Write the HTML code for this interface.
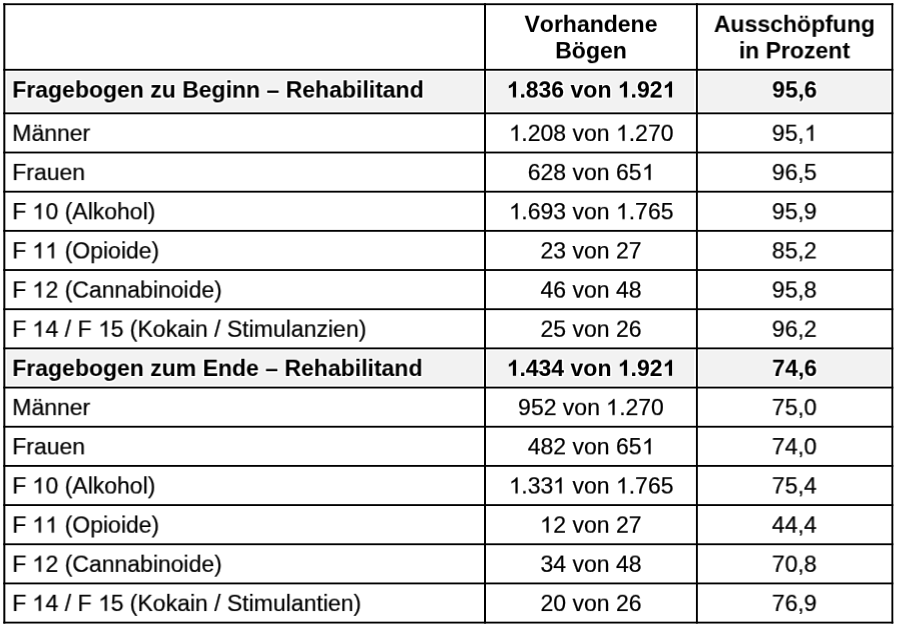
<!DOCTYPE html>
<html lang="de"><head><meta charset="utf-8"><title>Tabelle</title>
<style>
html,body{margin:0;padding:0;background:#fff;}
body{width:900px;height:627px;position:relative;overflow:hidden;font-family:"Liberation Sans",sans-serif;color:#000;}
#grid{position:absolute;left:0;top:0;width:900px;height:627px;}
.t{position:absolute;white-space:nowrap;font-size:23.0px;line-height:26.43px;height:26.43px;transform:scaleY(0.96);transform-origin:50% 21.18px;will-change:transform;-webkit-text-stroke:0.22px #000;font-kerning:none;font-feature-settings:'kern' 0,'liga' 0;}
.b{font-weight:bold;-webkit-text-stroke:0.05px #000;}
.h{text-shadow:0.90px 0.00px 0.4px #fff,0.78px 0.45px 0.4px #fff,0.45px 0.78px 0.4px #fff,0.00px 0.90px 0.4px #fff,-0.45px 0.78px 0.4px #fff,-0.78px 0.45px 0.4px #fff,-0.90px 0.00px 0.4px #fff,-0.78px -0.45px 0.4px #fff,-0.45px -0.78px 0.4px #fff,-0.00px -0.90px 0.4px #fff,0.45px -0.78px 0.4px #fff,0.78px -0.45px 0.4px #fff,1.50px 0.00px 0.6px #fff,1.30px 0.75px 0.6px #fff,0.75px 1.30px 0.6px #fff,0.00px 1.50px 0.6px #fff,-0.75px 1.30px 0.6px #fff,-1.30px 0.75px 0.6px #fff,-1.50px 0.00px 0.6px #fff,-1.30px -0.75px 0.6px #fff,-0.75px -1.30px 0.6px #fff,-0.00px -1.50px 0.6px #fff,0.75px -1.30px 0.6px #fff,1.30px -0.75px 0.6px #fff;}
.c{text-align:center;}
.o{display:inline-block;width:0.55615em;height:0.7422em;vertical-align:-0.00977em;overflow:visible;}
</style></head><body>
<svg id="grid" width="900" height="627" viewBox="0 0 900 627">
<rect x="6.95" y="72.05" width="475.75" height="38.90" fill="#f2f2f2"/>
<rect x="487.20" y="72.05" width="206.80" height="38.90" fill="#f2f2f2"/>
<rect x="699.20" y="72.05" width="190.80" height="38.90" fill="#f2f2f2"/>
<rect x="6.95" y="350.65" width="475.75" height="34.52" fill="#f2f2f2"/>
<rect x="487.20" y="350.65" width="206.80" height="34.52" fill="#f2f2f2"/>
<rect x="699.20" y="350.65" width="190.80" height="34.52" fill="#f2f2f2"/>
<rect x="3.33" y="3.29" width="889.94" height="1.85" fill="#000"/>
<rect x="3.33" y="621.67" width="889.94" height="1.85" fill="#000"/>
<rect x="3.33" y="3.29" width="2.00" height="620.23" fill="#000"/>
<rect x="484.00" y="3.29" width="2.00" height="620.23" fill="#000"/>
<rect x="695.95" y="3.29" width="1.90" height="620.23" fill="#000"/>
<rect x="891.43" y="3.29" width="1.85" height="620.23" fill="#000"/>
<rect x="3.33" y="68.86" width="889.94" height="1.85" fill="#000"/>
<rect x="3.33" y="112.41" width="889.94" height="1.85" fill="#000"/>
<rect x="3.33" y="151.58" width="889.94" height="1.85" fill="#000"/>
<rect x="3.33" y="190.75" width="889.94" height="1.85" fill="#000"/>
<rect x="3.33" y="229.93" width="889.94" height="1.85" fill="#000"/>
<rect x="3.33" y="269.10" width="889.94" height="1.85" fill="#000"/>
<rect x="3.33" y="308.28" width="889.94" height="1.85" fill="#000"/>
<rect x="3.33" y="347.45" width="889.94" height="1.85" fill="#000"/>
<rect x="3.33" y="386.63" width="889.94" height="1.85" fill="#000"/>
<rect x="3.33" y="425.80" width="889.94" height="1.85" fill="#000"/>
<rect x="3.33" y="464.98" width="889.94" height="1.85" fill="#000"/>
<rect x="3.33" y="504.15" width="889.94" height="1.85" fill="#000"/>
<rect x="3.33" y="543.33" width="889.94" height="1.85" fill="#000"/>
<rect x="3.33" y="582.50" width="889.94" height="1.85" fill="#000"/>
</svg>
<div class="t c b" style="left:440px;top:10px;transform:translate(0.95px,0.97px) scaleY(0.96);width:300px">Vorhandene</div>
<div class="t c b" style="left:440px;top:37px;transform:translate(0.95px,0.37px) scaleY(0.96);width:300px">Bögen</div>
<div class="t c b" style="left:644px;top:10px;transform:translate(0.42px,0.97px) scaleY(0.96);width:300px">Ausschöpfung</div>
<div class="t c b" style="left:644px;top:37px;transform:translate(0.42px,0.37px) scaleY(0.96);width:300px">in Prozent</div>
<div class="t b h" style="left:12px;top:76px;transform:translate(0.30px,0.55px) scaleY(0.96)">Fragebogen zu Beginn – Rehabilitand</div>
<div class="t c b h" style="left:440px;top:76px;transform:translate(0.95px,0.55px) scaleY(0.96);width:300px"><svg class="o" viewBox="0 -1500 1139 1520"><path transform="scale(1,-1)" d="M806 0H525V1059Q371 915 162 846V1101Q272 1137 401 1237.5T578 1472H806Z" stroke="#000" stroke-width="4"/></svg>.836 von <svg class="o" viewBox="0 -1500 1139 1520"><path transform="scale(1,-1)" d="M806 0H525V1059Q371 915 162 846V1101Q272 1137 401 1237.5T578 1472H806Z" stroke="#000" stroke-width="4"/></svg>.92<svg class="o" viewBox="0 -1500 1139 1520"><path transform="scale(1,-1)" d="M806 0H525V1059Q371 915 162 846V1101Q272 1137 401 1237.5T578 1472H806Z" stroke="#000" stroke-width="4"/></svg></div>
<div class="t c b h" style="left:644px;top:76px;transform:translate(0.62px,0.55px) scaleY(0.96);width:300px">95,6</div>
<div class="t" style="left:12px;top:119px;transform:translate(0.30px,0.95px) scaleY(0.96)">Männer</div>
<div class="t c" style="left:440px;top:119px;transform:translate(0.95px,0.95px) scaleY(0.96);width:300px"><svg class="o" viewBox="0 -1500 1139 1520"><path transform="scale(1,-1)" d="M763 0H583V1147Q518 1085 412.5 1023T223 930V1104Q374 1175 487 1276T647 1472H763Z" stroke="#000" stroke-width="20"/></svg>.208 von <svg class="o" viewBox="0 -1500 1139 1520"><path transform="scale(1,-1)" d="M763 0H583V1147Q518 1085 412.5 1023T223 930V1104Q374 1175 487 1276T647 1472H763Z" stroke="#000" stroke-width="20"/></svg>.270</div>
<div class="t c" style="left:644px;top:119px;transform:translate(0.42px,0.95px) scaleY(0.96);width:300px">95,<svg class="o" viewBox="0 -1500 1139 1520"><path transform="scale(1,-1)" d="M763 0H583V1147Q518 1085 412.5 1023T223 930V1104Q374 1175 487 1276T647 1472H763Z" stroke="#000" stroke-width="20"/></svg></div>
<div class="t" style="left:12px;top:159px;transform:translate(0.30px,0.12px) scaleY(0.96)">Frauen</div>
<div class="t c" style="left:440px;top:159px;transform:translate(0.95px,0.12px) scaleY(0.96);width:300px">628 von 65<svg class="o" viewBox="0 -1500 1139 1520"><path transform="scale(1,-1)" d="M763 0H583V1147Q518 1085 412.5 1023T223 930V1104Q374 1175 487 1276T647 1472H763Z" stroke="#000" stroke-width="20"/></svg></div>
<div class="t c" style="left:644px;top:159px;transform:translate(0.42px,0.12px) scaleY(0.96);width:300px">96,5</div>
<div class="t" style="left:12px;top:198px;transform:translate(0.30px,0.29px) scaleY(0.96)">F <svg class="o" viewBox="0 -1500 1139 1520"><path transform="scale(1,-1)" d="M763 0H583V1147Q518 1085 412.5 1023T223 930V1104Q374 1175 487 1276T647 1472H763Z" stroke="#000" stroke-width="20"/></svg>0 (Alkohol)</div>
<div class="t c" style="left:440px;top:198px;transform:translate(0.95px,0.29px) scaleY(0.96);width:300px"><svg class="o" viewBox="0 -1500 1139 1520"><path transform="scale(1,-1)" d="M763 0H583V1147Q518 1085 412.5 1023T223 930V1104Q374 1175 487 1276T647 1472H763Z" stroke="#000" stroke-width="20"/></svg>.693 von <svg class="o" viewBox="0 -1500 1139 1520"><path transform="scale(1,-1)" d="M763 0H583V1147Q518 1085 412.5 1023T223 930V1104Q374 1175 487 1276T647 1472H763Z" stroke="#000" stroke-width="20"/></svg>.765</div>
<div class="t c" style="left:644px;top:198px;transform:translate(0.42px,0.29px) scaleY(0.96);width:300px">95,9</div>
<div class="t" style="left:12px;top:237px;transform:translate(0.30px,0.47px) scaleY(0.96)">F <svg class="o" viewBox="0 -1500 1139 1520"><path transform="scale(1,-1)" d="M763 0H583V1147Q518 1085 412.5 1023T223 930V1104Q374 1175 487 1276T647 1472H763Z" stroke="#000" stroke-width="20"/></svg><svg class="o" viewBox="0 -1500 1139 1520"><path transform="scale(1,-1)" d="M763 0H583V1147Q518 1085 412.5 1023T223 930V1104Q374 1175 487 1276T647 1472H763Z" stroke="#000" stroke-width="20"/></svg> (Opioide)</div>
<div class="t c" style="left:440px;top:237px;transform:translate(0.95px,0.47px) scaleY(0.96);width:300px">23 von 27</div>
<div class="t c" style="left:644px;top:237px;transform:translate(0.42px,0.47px) scaleY(0.96);width:300px">85,2</div>
<div class="t" style="left:12px;top:276px;transform:translate(0.30px,0.64px) scaleY(0.96)">F <svg class="o" viewBox="0 -1500 1139 1520"><path transform="scale(1,-1)" d="M763 0H583V1147Q518 1085 412.5 1023T223 930V1104Q374 1175 487 1276T647 1472H763Z" stroke="#000" stroke-width="20"/></svg>2 (Cannabinoide)</div>
<div class="t c" style="left:440px;top:276px;transform:translate(0.95px,0.64px) scaleY(0.96);width:300px">46 von 48</div>
<div class="t c" style="left:644px;top:276px;transform:translate(0.42px,0.64px) scaleY(0.96);width:300px">95,8</div>
<div class="t" style="left:12px;top:315px;transform:translate(0.30px,0.82px) scaleY(0.96)">F <svg class="o" viewBox="0 -1500 1139 1520"><path transform="scale(1,-1)" d="M763 0H583V1147Q518 1085 412.5 1023T223 930V1104Q374 1175 487 1276T647 1472H763Z" stroke="#000" stroke-width="20"/></svg>4 / F <svg class="o" viewBox="0 -1500 1139 1520"><path transform="scale(1,-1)" d="M763 0H583V1147Q518 1085 412.5 1023T223 930V1104Q374 1175 487 1276T647 1472H763Z" stroke="#000" stroke-width="20"/></svg>5 (Kokain / Stimulanzien)</div>
<div class="t c" style="left:440px;top:315px;transform:translate(0.95px,0.82px) scaleY(0.96);width:300px">25 von 26</div>
<div class="t c" style="left:644px;top:315px;transform:translate(0.42px,0.82px) scaleY(0.96);width:300px">96,2</div>
<div class="t b h" style="left:12px;top:354px;transform:translate(0.30px,0.99px) scaleY(0.96)">Fragebogen zum Ende – Rehabilitand</div>
<div class="t c b h" style="left:440px;top:354px;transform:translate(0.95px,0.99px) scaleY(0.96);width:300px"><svg class="o" viewBox="0 -1500 1139 1520"><path transform="scale(1,-1)" d="M806 0H525V1059Q371 915 162 846V1101Q272 1137 401 1237.5T578 1472H806Z" stroke="#000" stroke-width="4"/></svg>.434 von <svg class="o" viewBox="0 -1500 1139 1520"><path transform="scale(1,-1)" d="M806 0H525V1059Q371 915 162 846V1101Q272 1137 401 1237.5T578 1472H806Z" stroke="#000" stroke-width="4"/></svg>.92<svg class="o" viewBox="0 -1500 1139 1520"><path transform="scale(1,-1)" d="M806 0H525V1059Q371 915 162 846V1101Q272 1137 401 1237.5T578 1472H806Z" stroke="#000" stroke-width="4"/></svg></div>
<div class="t c b h" style="left:644px;top:354px;transform:translate(0.62px,0.99px) scaleY(0.96);width:300px">74,6</div>
<div class="t" style="left:12px;top:394px;transform:translate(0.30px,0.17px) scaleY(0.96)">Männer</div>
<div class="t c" style="left:440px;top:394px;transform:translate(0.95px,0.17px) scaleY(0.96);width:300px">952 von <svg class="o" viewBox="0 -1500 1139 1520"><path transform="scale(1,-1)" d="M763 0H583V1147Q518 1085 412.5 1023T223 930V1104Q374 1175 487 1276T647 1472H763Z" stroke="#000" stroke-width="20"/></svg>.270</div>
<div class="t c" style="left:644px;top:394px;transform:translate(0.42px,0.17px) scaleY(0.96);width:300px">75,0</div>
<div class="t" style="left:12px;top:433px;transform:translate(0.30px,0.34px) scaleY(0.96)">Frauen</div>
<div class="t c" style="left:440px;top:433px;transform:translate(0.95px,0.34px) scaleY(0.96);width:300px">482 von 65<svg class="o" viewBox="0 -1500 1139 1520"><path transform="scale(1,-1)" d="M763 0H583V1147Q518 1085 412.5 1023T223 930V1104Q374 1175 487 1276T647 1472H763Z" stroke="#000" stroke-width="20"/></svg></div>
<div class="t c" style="left:644px;top:433px;transform:translate(0.42px,0.34px) scaleY(0.96);width:300px">74,0</div>
<div class="t" style="left:12px;top:472px;transform:translate(0.30px,0.52px) scaleY(0.96)">F <svg class="o" viewBox="0 -1500 1139 1520"><path transform="scale(1,-1)" d="M763 0H583V1147Q518 1085 412.5 1023T223 930V1104Q374 1175 487 1276T647 1472H763Z" stroke="#000" stroke-width="20"/></svg>0 (Alkohol)</div>
<div class="t c" style="left:440px;top:472px;transform:translate(0.95px,0.52px) scaleY(0.96);width:300px"><svg class="o" viewBox="0 -1500 1139 1520"><path transform="scale(1,-1)" d="M763 0H583V1147Q518 1085 412.5 1023T223 930V1104Q374 1175 487 1276T647 1472H763Z" stroke="#000" stroke-width="20"/></svg>.33<svg class="o" viewBox="0 -1500 1139 1520"><path transform="scale(1,-1)" d="M763 0H583V1147Q518 1085 412.5 1023T223 930V1104Q374 1175 487 1276T647 1472H763Z" stroke="#000" stroke-width="20"/></svg> von <svg class="o" viewBox="0 -1500 1139 1520"><path transform="scale(1,-1)" d="M763 0H583V1147Q518 1085 412.5 1023T223 930V1104Q374 1175 487 1276T647 1472H763Z" stroke="#000" stroke-width="20"/></svg>.765</div>
<div class="t c" style="left:644px;top:472px;transform:translate(0.42px,0.52px) scaleY(0.96);width:300px">75,4</div>
<div class="t" style="left:12px;top:511px;transform:translate(0.30px,0.69px) scaleY(0.96)">F <svg class="o" viewBox="0 -1500 1139 1520"><path transform="scale(1,-1)" d="M763 0H583V1147Q518 1085 412.5 1023T223 930V1104Q374 1175 487 1276T647 1472H763Z" stroke="#000" stroke-width="20"/></svg><svg class="o" viewBox="0 -1500 1139 1520"><path transform="scale(1,-1)" d="M763 0H583V1147Q518 1085 412.5 1023T223 930V1104Q374 1175 487 1276T647 1472H763Z" stroke="#000" stroke-width="20"/></svg> (Opioide)</div>
<div class="t c" style="left:440px;top:511px;transform:translate(0.95px,0.69px) scaleY(0.96);width:300px"><svg class="o" viewBox="0 -1500 1139 1520"><path transform="scale(1,-1)" d="M763 0H583V1147Q518 1085 412.5 1023T223 930V1104Q374 1175 487 1276T647 1472H763Z" stroke="#000" stroke-width="20"/></svg>2 von 27</div>
<div class="t c" style="left:644px;top:511px;transform:translate(0.42px,0.69px) scaleY(0.96);width:300px">44,4</div>
<div class="t" style="left:12px;top:550px;transform:translate(0.30px,0.87px) scaleY(0.96)">F <svg class="o" viewBox="0 -1500 1139 1520"><path transform="scale(1,-1)" d="M763 0H583V1147Q518 1085 412.5 1023T223 930V1104Q374 1175 487 1276T647 1472H763Z" stroke="#000" stroke-width="20"/></svg>2 (Cannabinoide)</div>
<div class="t c" style="left:440px;top:550px;transform:translate(0.95px,0.87px) scaleY(0.96);width:300px">34 von 48</div>
<div class="t c" style="left:644px;top:550px;transform:translate(0.42px,0.87px) scaleY(0.96);width:300px">70,8</div>
<div class="t" style="left:12px;top:590px;transform:translate(0.30px,0.04px) scaleY(0.96)">F <svg class="o" viewBox="0 -1500 1139 1520"><path transform="scale(1,-1)" d="M763 0H583V1147Q518 1085 412.5 1023T223 930V1104Q374 1175 487 1276T647 1472H763Z" stroke="#000" stroke-width="20"/></svg>4 / F <svg class="o" viewBox="0 -1500 1139 1520"><path transform="scale(1,-1)" d="M763 0H583V1147Q518 1085 412.5 1023T223 930V1104Q374 1175 487 1276T647 1472H763Z" stroke="#000" stroke-width="20"/></svg>5 (Kokain / Stimulantien)</div>
<div class="t c" style="left:440px;top:590px;transform:translate(0.95px,0.04px) scaleY(0.96);width:300px">20 von 26</div>
<div class="t c" style="left:644px;top:590px;transform:translate(0.42px,0.04px) scaleY(0.96);width:300px">76,9</div>
</body></html>
